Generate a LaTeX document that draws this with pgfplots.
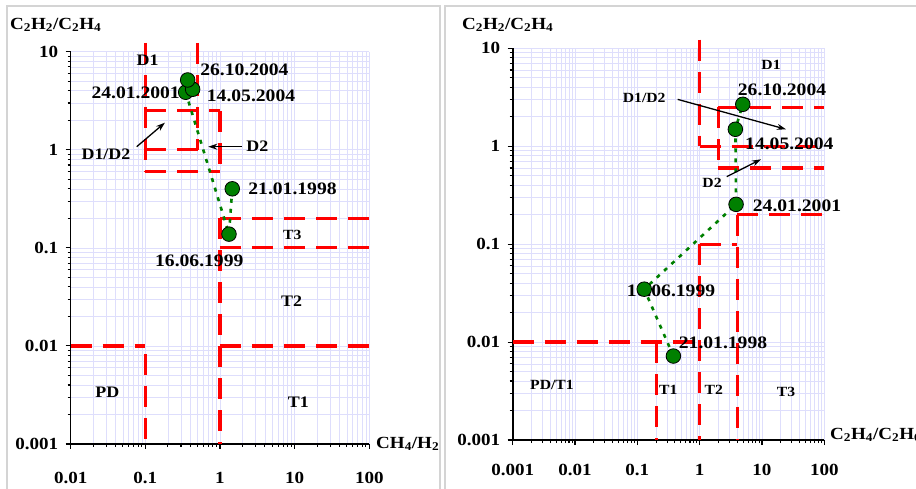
\documentclass[border=0pt]{standalone}
\usepackage{fontspec}
\setmainfont{Liberation Serif}[FakeStretch=1.12]
\usepackage{pgfplots}
\pgfplotsset{compat=1.18}
\usetikzlibrary{arrows.meta}

\definecolor{gridlav}{RGB}{222,222,252}
\definecolor{zonered}{RGB}{255,0,0}
\definecolor{ptgreen}{RGB}{0,128,0}
\definecolor{framegray}{RGB}{212,212,212}

\newcommand{\lbl}{\fontsize{17.5}{20}\selectfont\bfseries}
\newcommand{\zl}{\fontsize{16}{18}\selectfont\bfseries}
\newcommand{\zs}{\fontsize{14}{16}\selectfont\bfseries}
\newcommand{\ttl}{\fontsize{17}{20}\selectfont\bfseries}

\tikzset{
  zoneline/.style={zonered, line width=3.2pt, dash pattern=on 21pt off 11pt},
  trendline/.style={ptgreen, line width=2.6pt, dash pattern=on 4pt off 6pt},
  pointer/.style={black, line width=1.3pt, -{Stealth[length=9pt,width=6pt]}},
}
\pgfplotsset{
  dotmark/.style={only marks, mark=*, mark size=7.3pt,
    mark options={fill=ptgreen, draw=black, line width=0.8pt, solid}},
  every axis/.append style={
    xmode=log, ymode=log,
    scale only axis, clip=false,
    axis x line=bottom, axis y line=left,
    axis line style={-, line width=1.6pt, black},
    grid=both,
    major grid style={gridlav, line width=0.7pt},
    minor grid style={gridlav, line width=0.6pt},
    tick align=outside, major tick length=5pt, minor tick length=3pt,
    tick style={black, line width=1.1pt},
    ymin=0.001, ymax=10,
    ytick={0.001,0.01,0.1,1,10},
    yticklabels={0.001,0.01,0.1,1,10},
    minor ytick={0.002,0.003,0.004,0.005,0.006,0.007,0.008,0.009,
                 0.02,0.03,0.04,0.05,0.06,0.07,0.08,0.09,
                 0.2,0.3,0.4,0.5,0.6,0.7,0.8,0.9,
                 2,3,4,5,6,7,8,9},
    tick label style={font=\ttl},
    yticklabel style={xshift=-4pt},
  },
}

\begin{document}
\begin{tikzpicture}[x=1pt, y=1pt]
\useasboundingbox (0,0) rectangle (916,488);

% panel frames
\draw[framegray, line width=1.5pt] (7,-10) -- (7,482) -- (440,482) -- (440,-10);
\draw[framegray, line width=1.5pt] (445,-10) -- (445,482) -- (930,482);

% ---------- CH4/H2 chart ----------
\begin{axis}[
  at={(70.7pt,44pt)}, anchor=south west,
  width=298.6pt, height=392.3pt,
  xmin=0.01, xmax=100,
  xtick={0.01,0.1,1,10,100},
  xticklabels={0.01,0.1,1,10,100},
  xticklabel style={yshift=-20pt},
  minor xtick={0.02,0.03,0.04,0.05,0.06,0.07,0.08,0.09,
               0.2,0.3,0.4,0.5,0.6,0.7,0.8,0.9,
               2,3,4,5,6,7,8,9,20,30,40,50,60,70,80,90},
]
% zone boundaries
\addplot[zoneline] coordinates {(0.1,12.3) (0.1,0.6)};
\addplot[zoneline] coordinates {(0.5,12.3) (0.5,1)};
\addplot[zoneline] coordinates {(0.1,2.5) (1,2.5)};
\addplot[zoneline] coordinates {(1,2.5) (1,0.6)};
\addplot[zoneline] coordinates {(0.1,1) (0.5,1)};
\addplot[zoneline] coordinates {(0.1,0.6) (1,0.6)};
\addplot[zoneline] coordinates {(1,0.2) (100,0.2)};
\addplot[zoneline] coordinates {(1,0.1) (100,0.1)};
\addplot[zoneline] coordinates {(1,0.2) (1,0.001)};
\addplot[zoneline] coordinates {(0.01,0.01) (0.1,0.01)};
\addplot[zoneline] coordinates {(0.1,0.0083) (0.1,0.001)};
\addplot[zoneline] coordinates {(1,0.01) (100,0.01)};
% samples in date order
\addplot[trendline] coordinates {(1.46,0.40) (1.32,0.138) (0.347,3.86) (0.43,4.14) (0.369,5.15)};
\addplot[dotmark] coordinates {(1.46,0.40) (1.32,0.138) (0.347,3.86) (0.43,4.14) (0.369,5.15)};
% zone names
\node[font=\zl] at (axis cs:0.1075,8.23) {D1};
\node[font=\zl] at (axis cs:0.0297,0.906) {D1/D2};
\node[font=\zl] at (axis cs:3.16,1.075) {D2};
\node[font=\zs] at (axis cs:9.30,0.135) {T3};
\node[font=\zl] at (axis cs:9.13,0.0288) {T2};
\node[font=\zl] at (axis cs:0.0309,0.00334) {PD};
\node[font=\zl] at (axis cs:11.2,0.00267) {T1};
\draw[pointer] (axis cs:0.0766,1.075) -- (axis cs:0.183,1.89);
\draw[pointer] (axis cs:1.95,1.075) -- (axis cs:0.697,1.075);
% sample dates
\node[font=\lbl, anchor=west] at (axis cs:0.488,6.51) {26.10.2004};
\node[font=\lbl, anchor=east, inner sep=0pt] at (axis cs:0.291,3.77) {24.01.2001};
\node[font=\lbl, anchor=west, inner sep=0pt] at (axis cs:0.664,3.56) {14.05.2004};
\node[font=\lbl, anchor=west, inner sep=0pt] at (axis cs:2.39,0.396) {21.01.1998};
\node[font=\lbl] at (axis cs:0.528,0.0741) {16.06.1999};
\end{axis}

% ---------- C2H4/C2H6 chart ----------
\begin{axis}[
  at={(512.7pt,48pt)}, anchor=south west,
  width=311.6pt, height=391.7pt,
  xmin=0.001, xmax=100,
  xtick={0.001,0.01,0.1,1,10,100},
  xticklabels={0.001,0.01,0.1,1,10,100},
  xticklabel style={yshift=-16pt},
  minor xtick={0.002,0.003,0.004,0.005,0.006,0.007,0.008,0.009,
               0.02,0.03,0.04,0.05,0.06,0.07,0.08,0.09,
               0.2,0.3,0.4,0.5,0.6,0.7,0.8,0.9,
               2,3,4,5,6,7,8,9,20,30,40,50,60,70,80,90},
]
% zone boundaries
\addplot[zoneline] coordinates {(1,12.3) (1,1)};
\addplot[zoneline] coordinates {(1,1) (100,1)};
\addplot[zoneline] coordinates {(2,2.5) (100,2.5)};
\addplot[zoneline] coordinates {(2,2.5) (2,0.6)};
\addplot[zoneline] coordinates {(2,0.6) (100,0.6)};
\addplot[zoneline] coordinates {(4,0.2) (100,0.2)};
\addplot[zoneline] coordinates {(4,0.2) (4,0.001)};
\addplot[zoneline] coordinates {(1,0.1) (4,0.1)};
\addplot[zoneline] coordinates {(1,0.1) (1,0.001)};
\addplot[zoneline] coordinates {(0.001,0.01) (1,0.01)};
\addplot[zoneline] coordinates {(0.2,0.01) (0.2,0.001)};
% samples in date order
\addplot[trendline] coordinates {(0.379,0.0072) (0.129,0.0347) (3.84,0.255) (3.74,1.49) (4.92,2.68)};
\addplot[dotmark] coordinates {(0.379,0.0072) (0.129,0.0347) (3.84,0.255) (3.74,1.49) (4.92,2.68)};
% zone names
\node[font=\zs] at (axis cs:13.97,6.75) {D1};
\node[font=\zs] at (axis cs:0.129,3.09) {D1/D2};
\node[font=\zs] at (axis cs:1.58,0.424) {D2};
\node[font=\zs] at (axis cs:0.00427,0.00365) {PD/T1};
\node[font=\zs] at (axis cs:0.314,0.00324) {T1};
\node[font=\zs] at (axis cs:1.68,0.00324) {T2};
\node[font=\zs] at (axis cs:24.3,0.00311) {T3};
\draw[pointer] (axis cs:0.444,3.01) -- (axis cs:24.3,1.49);
\draw[pointer] (axis cs:2.72,0.489) -- (axis cs:9.64,0.735);
% sample dates
\node[font=\lbl, anchor=west, inner sep=0pt] at (axis cs:4.08,3.81) {26.10.2004};
\node[font=\lbl, anchor=west, inner sep=0pt] at (axis cs:5.34,1.054) {14.05.2004};
\node[font=\lbl, anchor=west, inner sep=0pt] at (axis cs:7.10,0.245) {24.01.2001};
\node[font=\lbl, anchor=west, inner sep=0pt] at (axis cs:0.0675,0.0333) {16.06.1999};
\node[font=\lbl, anchor=west, inner sep=0pt] at (axis cs:0.461,0.00986) {21.01.1998};
\end{axis}

% axis titles
\node[font=\ttl, anchor=west, inner sep=0pt] at (10,463) {C\textsubscript{2}H\textsubscript{2}/C\textsubscript{2}H\textsubscript{4}};
\node[font=\ttl, anchor=west, inner sep=0pt] at (376,44) {CH\textsubscript{4}/H\textsubscript{2}};
\node[font=\ttl, anchor=west, inner sep=0pt] at (462,463) {C\textsubscript{2}H\textsubscript{2}/C\textsubscript{2}H\textsubscript{4}};
\node[font=\ttl, anchor=west, inner sep=0pt] at (830,53) {C\textsubscript{2}H\textsubscript{4}/C\textsubscript{2}H\textsubscript{6}};
\end{tikzpicture}
\end{document}
